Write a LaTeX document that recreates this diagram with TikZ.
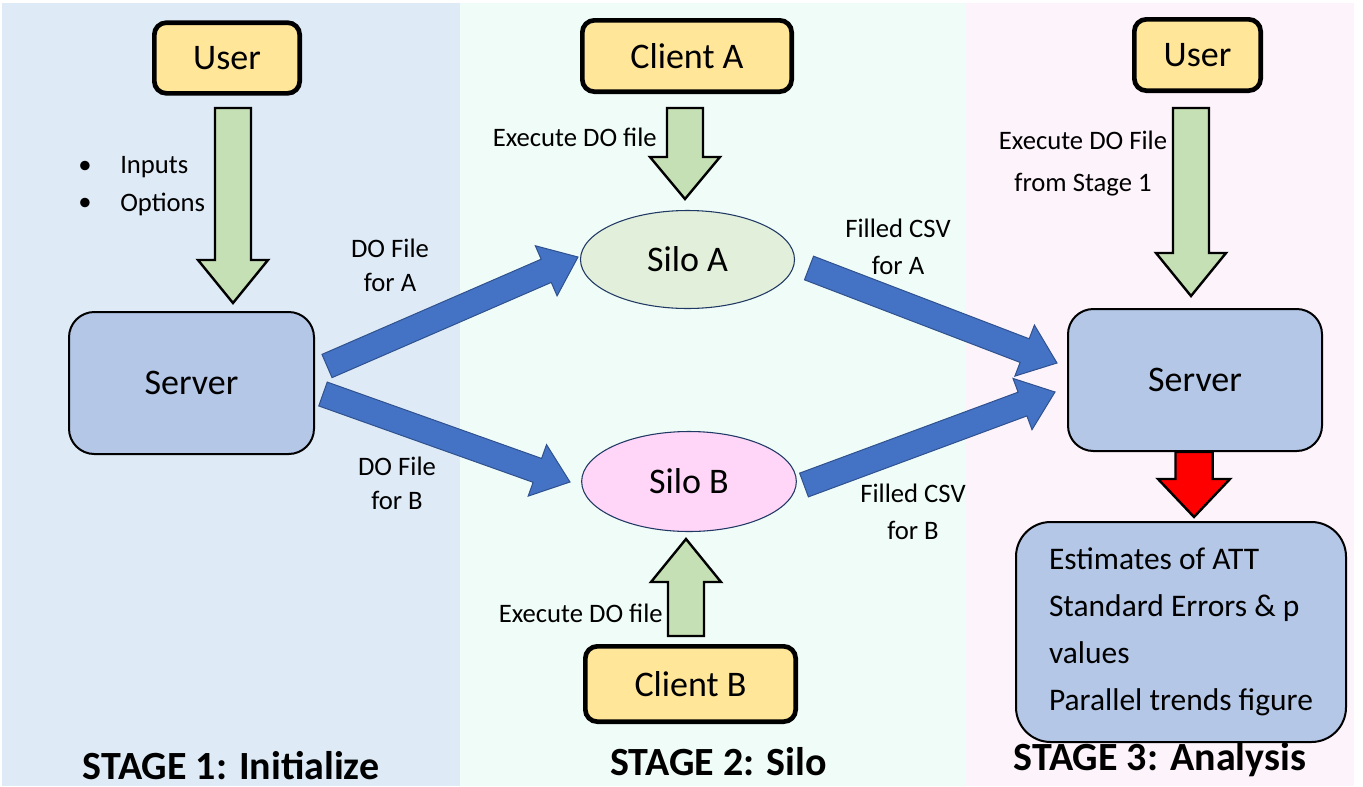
\documentclass[tikz,border=0pt]{standalone}
\usepackage{fontspec}
\setmainfont{Carlito}
\usetikzlibrary{calc,shapes.geometric}
\definecolor{bgone}{HTML}{DEEAF6}
\definecolor{bgtwo}{HTML}{F0FCF8}
\definecolor{bgthree}{HTML}{FDF3FB}
\definecolor{useryel}{HTML}{FFE699}
\definecolor{servblue}{HTML}{B4C7E7}
\definecolor{arrgreen}{HTML}{C5E0B4}
\definecolor{arrblue}{HTML}{4472C4}
\definecolor{arrblueedge}{HTML}{2F528F}
\definecolor{siloagreen}{HTML}{E2EFDA}
\definecolor{silobpink}{HTML}{FFD5F8}
\definecolor{ellipseedge}{HTML}{1F3864}
\newcommand\blockarrow[6]{%
  \coordinate (ba-h) at ($(#2)!#5!(#1)$);
  \draw[#6] ($(#1)!#3!90:(#2)$) -- ($(ba-h)!#3!-90:(#1)$) -- ($(ba-h)!#4!-90:(#1)$)
    -- (#2) -- ($(ba-h)!#4!90:(#1)$) -- ($(ba-h)!#3!90:(#1)$) -- ($(#1)!#3!-90:(#2)$) -- cycle;
}
\begin{document}
\begin{tikzpicture}[x=0.75pt,y=-0.75pt,
  bigtxt/.style={font=\fontsize{27}{32}\selectfont},
  lbl/.style={font=\fontsize{20}{25.5}\selectfont, inner sep=0pt, align=center},
  yelbox/.style={draw=black, line width=3.5pt, fill=useryel, rounded corners=9pt, bigtxt},
  servbox/.style={draw=black, line width=1.5pt, fill=servblue, rounded corners=19pt, bigtxt},
  silo/.style={ellipse, draw=ellipseedge, line width=0.8pt, inner sep=0pt, bigtxt},
  greenarr/.style={fill=arrgreen, draw=black, line width=1.8pt, line join=miter},
  bluearr/.style={fill=arrblue, draw=arrblueedge, line width=0.75pt, line join=miter},
  redarr/.style={fill=red, draw=black, line width=1.8pt, line join=miter},
  stagetitle/.style={font=\fontsize{30}{36}\selectfont\bfseries, inner sep=0pt, anchor=base}
]
\useasboundingbox (0,0) rectangle (1363,786);
\fill[bgone] (2,3) rectangle (460,786);
\fill[bgtwo] (460,3) rectangle (965,786);
\fill[bgthree] (965,3) rectangle (1354,786);

% nodes
\node[yelbox, minimum width=109pt, minimum height=53pt] (user1) at (227,58) {User};
\node[servbox, minimum width=183.75pt, minimum height=106.5pt] (server1) at (191.5,383) {Server};
\node[yelbox, minimum width=157pt, minimum height=53.5pt] (clientA) at (687,56) {Client A};
\node[silo, fill=siloagreen, minimum width=160.5pt, minimum height=73.5pt] (siloA) at (687.5,259.5) {Silo A};
\node[silo, fill=silobpink, minimum width=161pt, minimum height=75pt] (siloB) at (689,481.5) {Silo B};
\node[yelbox, minimum width=157.75pt, minimum height=56.5pt] (clientB) at (690.5,684) {Client B};
\node[yelbox, minimum width=94.75pt, minimum height=53.5pt] (user3) at (1197.5,55) {User};
\node[servbox, minimum width=190.5pt, minimum height=106.5pt] (server3) at (1195,380) {Server};
\node[servbox, rounded corners=26pt, minimum width=247.5pt, minimum height=165pt, align=left,
      font=\fontsize{23.6}{35.4}\selectfont] (results) at (1181,632)
  {Estimates of ATT\\Standard Errors \& p\\values\\Parallel trends figure};

% arrow end points
\coordinate (a1s) at (233,108); \coordinate (a1e) at (233,303);
\coordinate (a2s) at (685,108); \coordinate (a2e) at (685,199);
\coordinate (a3s) at (686,636); \coordinate (a3e) at (686,539);
\coordinate (a4s) at (1191,108); \coordinate (a4e) at (1191,296);
\coordinate (a5s) at (1194,452); \coordinate (a5e) at (1194,517);
\coordinate (b1s) at (327,366); \coordinate (b1e) at (578,257);
\coordinate (b2s) at (323,394); \coordinate (b2e) at (570,482);
\coordinate (b3s) at (809,268); \coordinate (b3e) at (1057,363);
\coordinate (b4s) at (804,485); \coordinate (b4e) at (1055,392);

\blockarrow{a1s}{a1e}{13.5pt}{26.25pt}{32.25pt}{greenarr}
\blockarrow{a2s}{a2e}{13.5pt}{26.25pt}{31.5pt}{greenarr}
\blockarrow{a3s}{a3e}{13.5pt}{26.25pt}{32.25pt}{greenarr}
\blockarrow{a4s}{a4e}{13.5pt}{26.25pt}{32.25pt}{greenarr}
\blockarrow{a5s}{a5e}{13.9pt}{27pt}{28.5pt}{redarr}
\blockarrow{b1s}{b1e}{9.5pt}{20.5pt}{26pt}{bluearr}
\blockarrow{b2s}{b2e}{9.5pt}{20.5pt}{26pt}{bluearr}
\blockarrow{b3s}{b3e}{9.5pt}{20.5pt}{26pt}{bluearr}
\blockarrow{b4s}{b4e}{9.5pt}{20.5pt}{26pt}{bluearr}

% labels
\node[lbl] (bul1) at (85,167) {\textbullet};
\node[lbl, anchor=west] (inputs) at (120,167) {Inputs};
\node[lbl] (bul2) at (85,204) {\textbullet};
\node[lbl, anchor=west] (options) at (120,204) {Options};
\node[lbl] (doA) at (390,265) {DO File\\for A};
\node[lbl] (doB) at (397,483) {DO File\\for B};
\node[lbl, font=\fontsize{20}{27.75}\selectfont] (csvA) at (898,246.5) {Filled CSV\\for A};
\node[lbl, font=\fontsize{20}{27.75}\selectfont] (csvB) at (913,511.5) {Filled CSV\\for B};
\node[lbl, anchor=east] (exA) at (657,137) {Execute DO file};
\node[lbl, anchor=east] (exB) at (663,613) {Execute DO file};
\node[lbl, font=\fontsize{20}{31.5}\selectfont] (ex3) at (1083,164) {Execute DO File\\from Stage 1};

\node[stagetitle] (st1) at (231,779) {STAGE 1: Initialize};
\node[stagetitle] (st2) at (718.5,775) {STAGE 2: Silo};
\node[stagetitle] (st3) at (1160,770) {STAGE 3: Analysis};
\end{tikzpicture}
\end{document}
